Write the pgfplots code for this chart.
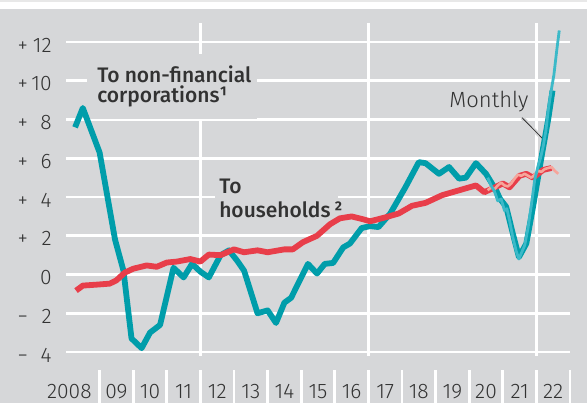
\documentclass[border=0pt]{standalone}
\usepackage{fontspec}
\setmainfont{Fira Sans Light}[BoldFont={Fira Sans Medium}]
\usepackage{pgfplots}
\pgfplotsset{compat=1.18}
\definecolor{panel}{RGB}{214,215,217}
\definecolor{topgray}{RGB}{232,232,232}
\definecolor{teal1}{RGB}{0,157,170}
\definecolor{teallight}{RGB}{60,185,200}
\definecolor{red1}{RGB}{232,62,74}
\definecolor{pink1}{RGB}{246,165,155}
\definecolor{txt}{RGB}{50,50,50}
\newcommand{\yt}[2]{\makebox[17pt]{#1\hfill #2}}
\begin{document}
\begin{tikzpicture}[x=1pt,y=1pt]
\useasboundingbox (0,0) rectangle (293.5,201.5);
\fill[white] (0,0) rectangle (293.5,201.5);
\fill[topgray] (0,200.5) rectangle (293.5,201.5);
\fill[panel] (0,0) rectangle (293.5,197);
\begin{axis}[
  at={(33pt,23.55pt)}, anchor=south west,
  scale only axis, width=252pt, height=166.6pt,
  xmin=2008, xmax=2023, ymin=-4.2, ymax=13,
  axis line style={draw=none},
  ytick={-4,-2,0,2,4,6,8,10,12},
  yticklabels={\yt{−}{4},\yt{−}{2},0,\yt{+}{2},\yt{+}{4},\yt{+}{6},\yt{+}{8},\yt{+}{10},\yt{+}{12}},
  ymajorgrids, major grid style={white,line width=1.4pt},
  xtick={2008.1,2009.5,2010.5,2011.5,2012.5,2013.5,2014.5,2015.5,2016.5,2017.5,2018.5,2019.5,2020.5,2021.5,2022.5},
  xticklabels={2008,09,10,11,12,13,14,15,16,17,18,19,20,21,22},
  xmajorgrids=false,
  minor xtick={2012,2017,2022}, xminorgrids, minor grid style={white,line width=1.4pt},
  major tick length=0pt, minor tick length=0pt,
  tick label style={font=\fontsize{10.5}{12}\selectfont, text=txt},
  xticklabel style={anchor=base, inner sep=0pt, yshift=-21.3pt},
  yticklabel style={anchor=base east, inner sep=0pt, xshift=-7pt, yshift=-5pt},
  clip=false,
]
% label backgrounds
\fill[panel] (axis cs:2008.62,11.4) rectangle (axis cs:2013.68,8.05);
\fill[panel] (axis cs:2012.43,5.37) rectangle (axis cs:2016.1,2.6);
% bottom ticks
\pgfplotsinvokeforeach{2009,2010,2011,2012,2013,2014,2015,2016,2017,2018,2019,2020,2021,2022,2023}{
  \draw[white,line width=1.4pt] (axis cs:#1,-4.95) -- (axis cs:#1,-7.2);
}
\node[anchor=base west, inner sep=0pt, text=txt, font=\fontsize{10.5}{12}\selectfont\bfseries] at (axis cs:2008.92,9.93) {To non-financial};
\node[anchor=base west, inner sep=0pt, text=txt, font=\fontsize{10.5}{12}\selectfont\bfseries] at (axis cs:2008.92,8.88) {corporations¹};
\node[anchor=base west, inner sep=0pt, text=txt, font=\fontsize{10.5}{12}\selectfont\bfseries] at (axis cs:2012.55,4.18) {To};
\node[anchor=base west, inner sep=0pt, text=txt, font=\fontsize{10.5}{12}\selectfont\bfseries] at (axis cs:2012.55,2.94) {households\,²};
\node[anchor=base west, inner sep=0pt, text=txt, font=\fontsize{11}{12}\selectfont] at (axis cs:2019.4,8.62) {Monthly};
\draw[panel, line width=2pt] (axis cs:2021.57,8.1) -- (axis cs:2022.22,6.95);
\draw[black!80, line width=0.4pt] (axis cs:2021.57,8.1) -- (axis cs:2022.24,6.92);
% non-financial corporations (quarterly)
\addplot[teal1, line width=2.9pt, line join=round, line cap=butt] coordinates {
(2008.27,7.6) (2008.5,8.6) (2009.0,6.3) (2009.46,1.8) (2009.71,0.2) (2009.95,-3.3)
(2010.25,-3.8) (2010.5,-3.0) (2010.8,-2.6) (2011.2,0.35) (2011.5,-0.15) (2011.75,0.55)
(2012.0,0.15) (2012.25,-0.15) (2012.6,1.0) (2012.85,1.25) (2013.1,0.7) (2013.3,0.2)
(2013.7,-2.0) (2014.0,-1.85) (2014.25,-2.5) (2014.5,-1.45) (2014.7,-1.2) (2015.2,0.55)
(2015.47,0.05) (2015.7,0.55) (2015.95,0.6) (2016.25,1.4) (2016.45,1.6) (2016.8,2.4)
(2017.05,2.5) (2017.3,2.45) (2017.65,3.15) (2018.1,4.5) (2018.5,5.8) (2018.7,5.75)
(2019.1,5.2) (2019.4,5.55) (2019.7,4.95) (2019.9,5.0) (2020.2,5.75) (2020.5,5.2)
(2020.8,4.35) (2020.92,3.9) (2021.1,3.5) (2021.3,2.1) (2021.48,0.9) (2021.7,1.6)
(2021.9,3.5) (2022.17,6.25) (2022.35,8.0) (2022.48,9.5)
};
% households (quarterly)
\addplot[red1, line width=2.9pt, line join=round, line cap=butt] coordinates {
(2008.3,-0.83) (2008.5,-0.57) (2008.92,-0.52) (2009.3,-0.47) (2009.5,-0.3) (2009.75,0.1)
(2010.0,0.3) (2010.4,0.47) (2010.7,0.4) (2011.0,0.62) (2011.3,0.67) (2011.7,0.8)
(2012.0,0.67) (2012.25,1.03) (2012.6,1.0) (2013.0,1.3) (2013.3,1.15) (2013.7,1.25)
(2014.0,1.15) (2014.5,1.3) (2014.75,1.3) (2015.05,1.67) (2015.47,2.0) (2015.86,2.6)
(2016.15,2.9) (2016.5,3.0) (2016.85,2.85) (2017.05,2.75) (2017.5,2.95) (2017.9,3.15)
(2018.3,3.55) (2018.7,3.7) (2019.2,4.1) (2019.7,4.35) (2020.2,4.6) (2020.45,4.25)
(2020.7,4.45) (2021.0,4.7) (2021.2,4.5) (2021.5,5.1) (2021.7,5.2) (2021.9,5.0)
(2022.2,5.4) (2022.45,5.5)
};
% households (monthly)
\addplot[pink1, line width=1.3pt, line join=round] coordinates {
(2020.55,4.35) (2020.65,4.5) (2020.75,4.4) (2020.85,4.6) (2020.95,4.75) (2021.05,4.6)
(2021.15,4.55) (2021.25,4.7) (2021.35,4.95) (2021.45,5.15) (2021.55,5.1) (2021.65,5.2)
(2021.75,5.1) (2021.85,5.0) (2021.95,5.15) (2022.05,5.35) (2022.15,5.3) (2022.25,5.45)
(2022.35,5.5) (2022.45,5.55) (2022.55,5.35) (2022.65,5.2)
};
% non-financial corporations (monthly)
\addplot[teallight, line width=1.4pt, line join=round] coordinates {
(2020.55,5.0) (2020.65,4.6) (2020.75,4.3) (2020.85,3.8) (2020.95,3.9) (2021.05,3.3)
(2021.12,3.4) (2021.2,2.8) (2021.3,1.9) (2021.4,1.2) (2021.48,0.8) (2021.55,1.1)
(2021.65,1.5) (2021.75,2.4) (2021.85,3.6) (2021.95,4.9) (2022.05,5.6) (2022.12,6.0)
(2022.2,6.6) (2022.28,7.4) (2022.36,8.6) (2022.45,9.6) (2022.52,10.3) (2022.6,11.5)
(2022.68,12.6)
};
\end{axis}
\end{tikzpicture}
\end{document}
